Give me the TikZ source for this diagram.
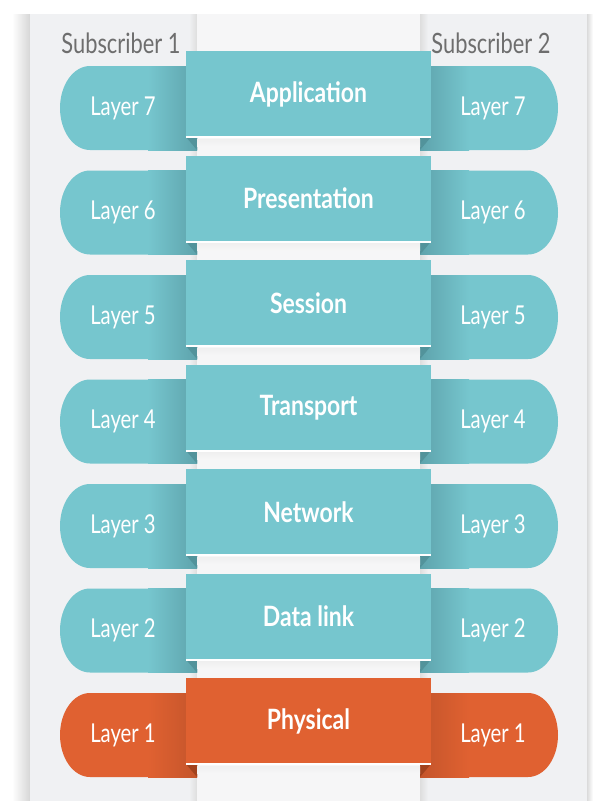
\documentclass[tikz,border=0pt]{standalone}
\usepackage{fontspec}
\setmainfont{Lato}
\newfontfamily\layerfont{Lato}[FakeStretch=0.78]
\newfontfamily\bandfont{Lato}[FakeStretch=0.82]
\definecolor{ositeal}{HTML}{76C6CE}
\definecolor{ositealdk}{HTML}{5EA3AC}
\definecolor{ositealfd}{HTML}{52939B}
\definecolor{osiorange}{HTML}{E06131}
\definecolor{osiorangedk}{HTML}{C4552B}
\definecolor{osiorangefd}{HTML}{A3431E}
\definecolor{sidepanel}{HTML}{F0F1F3}
\definecolor{midpanel}{HTML}{F6F6F7}
\definecolor{subgray}{HTML}{6E6E6E}
\tikzset{
    band/.style={fill=ositeal, minimum width=245pt, minimum height=86pt, inner sep=0, text=white, font=\bandfont\bfseries\fontsize{28}{30}\selectfont},
    layer/.style={text=white, font=\layerfont\fontsize{26}{28}\selectfont},
    subscr/.style={text=subgray, font=\layerfont\fontsize{28}{30}\selectfont},
    bandline/.style={white, line width=2pt}
}

\begin{document}
\begin{tikzpicture}[x=1pt, y=-1pt]
          \useasboundingbox (0,0) rectangle (593,801);
          \fill[white] (0,0) rectangle (593,801);

          % panels
          \shade[left color=white, right color=black!16] (12,14) rectangle (30,801);
          \shade[left color=black!14, right color=white] (587,14) rectangle (593,801);
          \fill[sidepanel] (30,14) rectangle (197,801);
          \fill[sidepanel] (420,14) rectangle (587,801);
          \shade[left color=sidepanel, right color=black!13] (189,14) rectangle (197,801);
          \shade[left color=black!13, right color=sidepanel] (420,14) rectangle (428,801);
          \fill[midpanel] (197,14) rectangle (420,801);

          \node[subscr] (sub1) at (121,43) {Subscriber 1};
          \node[subscr] (sub2) at (491,43) {Subscriber 2};

          % pills
          \foreach \k/\col in {0/teal,1/teal,2/teal,3/teal,4/teal,5/teal,6/orange} {
            \pgfmathsetmacro{\ytop}{66+104.5*\k}
            \pgfmathsetmacro{\ybot}{150+104.5*\k}
            \pgfmathsetmacro{\yband}{137+104.5*\k}
            \fill[osi\col] (197,\ytop) -- (90,\ytop) arc[start angle=270, end angle=90, x radius=30, y radius=42] -- (197,\ybot) -- cycle;
            \fill[osi\col] (420,\ytop) -- (528,\ytop) arc[start angle=270, end angle=450, x radius=30, y radius=42] -- (420,\ybot) -- cycle;
            \shade[left color=osi\col, right color=osi\col dk] (148,\ytop) rectangle (197,\ybot);
            \shade[left color=osi\col dk, right color=osi\col] (420,\ytop) rectangle (469,\ybot);
            \fill[osi\col fd] (186,\yband) -- (197,\yband) -- (197,\ybot) -- cycle;
            \fill[osi\col fd] (431,\yband) -- (420,\yband) -- (420,\ybot) -- cycle;
            \shade[top color=black!6, bottom color=midpanel] (197,\yband+2) rectangle (420,\yband+9);
          }

          \node[layer] (l7) at (123,108) {Layer 7};
          \node[layer] (r7) at (493,108) {Layer 7};
          \node[layer] (l6) at (123,212.5) {Layer 6};
          \node[layer] (r6) at (493,212.5) {Layer 6};
          \node[layer] (l5) at (123,317) {Layer 5};
          \node[layer] (r5) at (493,317) {Layer 5};
          \node[layer] (l4) at (123,421.5) {Layer 4};
          \node[layer] (r4) at (493,421.5) {Layer 4};
          \node[layer] (l3) at (123,526) {Layer 3};
          \node[layer] (r3) at (493,526) {Layer 3};
          \node[layer] (l2) at (123,630.5) {Layer 2};
          \node[layer] (r2) at (493,630.5) {Layer 2};
          \node[layer] (l1) at (123,735) {Layer 1};
          \node[layer] (r1) at (493,735) {Layer 1};

          % bands
          \node[band] (app) at (308.5,94) {Application};
          \node[band] (pres) at (308.5,198.5) {Presentation};
          \node[band] (sess) at (308.5,303) {Session};
          \node[band] (trans) at (308.5,407.5) {Transport};
          \node[band] (net) at (308.5,512) {Network};
          \node[band] (dlink) at (308.5,616.5) {Data link};
          \node[band, fill=osiorange] (phys) at (308.5,721) {Physical};

          \draw[bandline] (app.south west) to (app.south east);
          \draw[bandline] (pres.south west) to (pres.south east);
          \draw[bandline] (sess.south west) to (sess.south east);
          \draw[bandline] (trans.south west) to (trans.south east);
          \draw[bandline] (net.south west) to (net.south east);
          \draw[bandline] (dlink.south west) to (dlink.south east);
          \draw[bandline] (phys.south west) to (phys.south east);
        \end{tikzpicture}
\end{document}
